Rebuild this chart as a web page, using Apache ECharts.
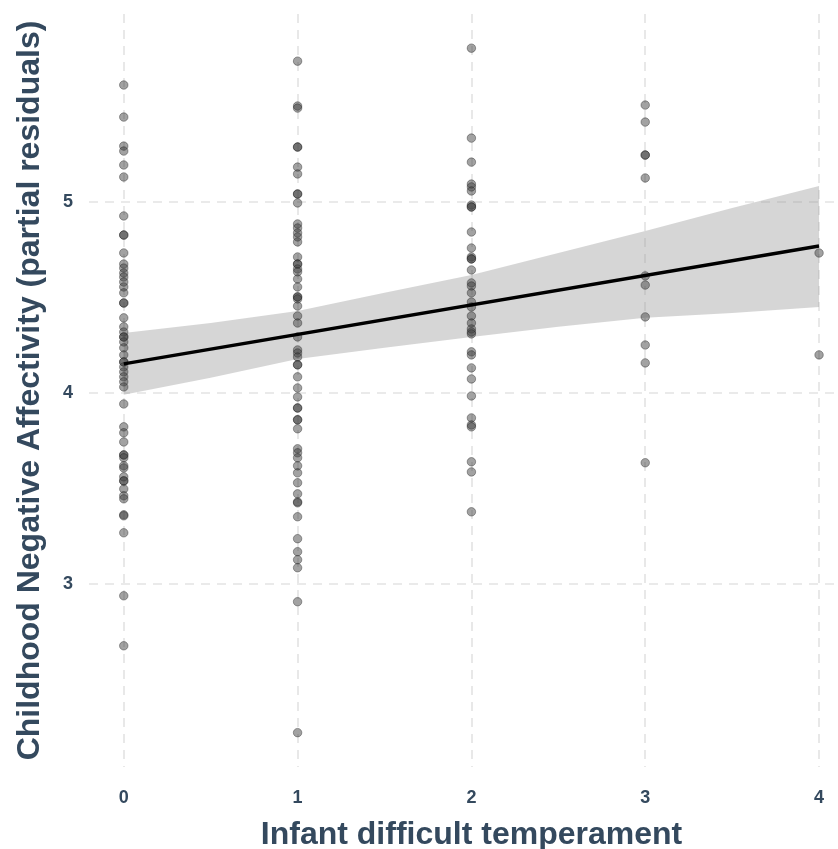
<!DOCTYPE html>
<html>
<head>
<meta charset="utf-8">
<script src="https://cdn.jsdelivr.net/npm/echarts@6/dist/echarts.min.js"></script>
<style>html,body{margin:0;padding:0;background:#fff;}#chart{width:838px;height:849px;}</style>
</head>
<body>
<div id="chart"></div>
<script>
// ---- Data ----
const xTicks = [0, 1, 2, 3, 4];
const yTicks = [3, 4, 5];

const temp0 = [5.613,5.445,5.293,5.267,5.194,5.131,4.927,4.827,4.827,4.733,4.675,4.654,4.628,4.607,4.581,4.555,4.524,4.471,4.471,4.393,4.346,4.319,4.293,4.293,4.267,4.236,4.199,4.162,4.162,4.136,4.110,4.084,4.058,4.031,3.942,3.822,3.791,3.743,3.675,3.675,3.660,3.618,3.607,3.560,3.539,3.539,3.497,3.461,3.445,3.361,3.356,3.267,2.937,2.675];
const temp1 = [5.738,5.503,5.492,5.288,5.288,5.183,5.147,5.042,5.042,4.995,4.885,4.864,4.838,4.817,4.791,4.712,4.675,4.675,4.649,4.634,4.597,4.555,4.503,4.503,4.492,4.455,4.403,4.366,4.293,4.225,4.209,4.188,4.147,4.147,4.084,4.026,3.979,3.921,3.921,3.859,3.859,3.812,3.707,3.686,3.660,3.618,3.581,3.529,3.471,3.429,3.424,3.351,3.236,3.168,3.126,3.084,2.906,2.220];
const temp2 = [5.806,5.335,5.209,5.094,5.079,5.058,4.984,4.974,4.974,4.843,4.759,4.712,4.702,4.702,4.644,4.576,4.560,4.524,4.476,4.450,4.403,4.366,4.335,4.319,4.309,4.215,4.199,4.131,4.073,3.984,3.869,3.832,3.822,3.639,3.586,3.377];
const temp3 = [5.508,5.419,5.246,5.246,5.126,4.613,4.565,4.398,4.251,4.157,3.634];
const temp4 = [4.733,4.199];

const fitX = [0, 4];
const fitY = [4.152, 4.770];

const bandX    = [0, 0.5, 1, 1.5, 2, 2.5, 3, 3.5, 4];
const bandLow  = [3.990, 4.079, 4.178, 4.236, 4.293, 4.346, 4.393, 4.419, 4.450];
const bandHigh = [4.314, 4.366, 4.429, 4.524, 4.618, 4.733, 4.848, 4.969, 5.084];

// ---- Build series data ----
const groups = [temp0, temp1, temp2, temp3, temp4];
const points = [];
groups.forEach((arr, i) => arr.forEach(v => points.push([xTicks[i], v])));
const bandData = bandX.map((x, i) => [x, bandLow[i], bandHigh[i]]);
const fitData = fitX.map((x, i) => [x, fitY[i]]);

const textColor = '#34495e';
const font = 'Liberation Sans, Arial, sans-serif';
const gridLine = { show: true, lineStyle: { color: '#e3e3e3', width: 1.6, type: [9, 7] } };

const chart = echarts.init(document.getElementById('chart'), null, { renderer: 'canvas' });
chart.setOption({
  animation: false,
  backgroundColor: '#ffffff',
  grid: { left: 89, right: 0, top: 14, bottom: 82, containLabel: false, outerBoundsMode: 'none' },
  xAxis: {
    type: 'value', min: -0.2, max: 4.109,
    axisLine: { show: false },
    axisTick: { show: false, customValues: xTicks },
    axisLabel: { customValues: xTicks, color: textColor, fontWeight: 'bold', fontSize: 18, fontFamily: font, margin: 22 },
    splitLine: gridLine,
    name: 'Infant difficult temperament', nameLocation: 'middle', nameGap: 52,
    nameTextStyle: { color: textColor, fontWeight: 'bold', fontSize: 32, fontFamily: font, padding: [0, 0, 0, 16] }
  },
  yAxis: {
    type: 'value', min: 2.04, max: 5.985,
    axisLine: { show: false },
    axisTick: { show: false, customValues: yTicks },
    axisLabel: { customValues: yTicks, color: textColor, fontWeight: 'bold', fontSize: 18, fontFamily: font, margin: 16 },
    splitLine: gridLine,
    name: 'Childhood Negative Affectivity (partial residuals)', nameLocation: 'middle', nameGap: 43,
    nameTextStyle: { color: textColor, fontWeight: 'bold', fontSize: 32, fontFamily: font }
  },
  series: [
    {
      type: 'custom', data: bandData, silent: true, z: 1,
      encode: { x: 0, y: [1, 2] },
      renderItem: function (params, api) {
        if (params.dataIndex !== 0) return null;
        const upper = bandData.map(d => api.coord([d[0], d[2]]));
        const lower = bandData.slice().reverse().map(d => api.coord([d[0], d[1]]));
        return { type: 'polygon', shape: { points: upper.concat(lower) }, style: { fill: 'rgba(153,153,153,0.4)' } };
      }
    },
    { type: 'scatter', data: points, symbolSize: 8.5, itemStyle: { color: 'rgba(60,60,60,0.6)', borderColor: 'rgba(30,30,30,0.6)', borderWidth: 0.8 }, z: 3 },
    { type: 'line', data: fitData, symbol: 'none', lineStyle: { color: '#000', width: 3.5 }, z: 4 }
  ]
});
</script>
</body>
</html>
